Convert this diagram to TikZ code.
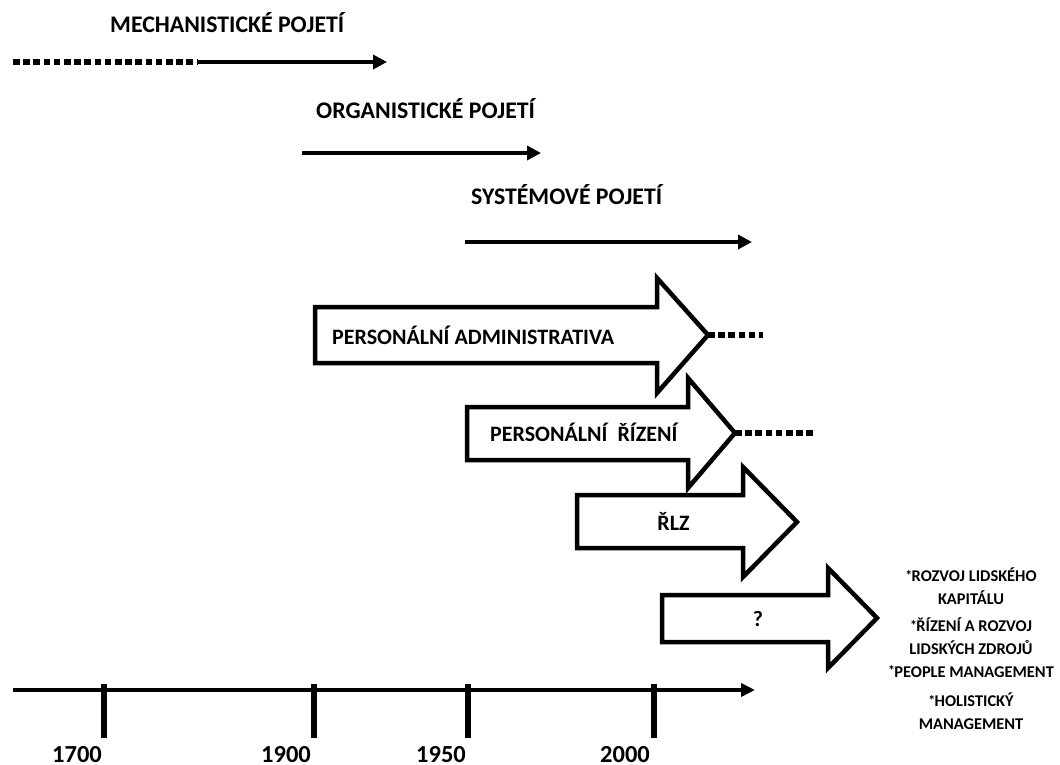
\documentclass[tikz,border=0pt]{standalone}
\usepackage{fontspec}
\setmainfont{Carlito}
\usetikzlibrary{arrows.meta}
\newcommand{\bulstar}{\raisebox{1.2pt}{\fontsize{14}{14}\selectfont *}\kern-0.6pt}
\begin{document}
\begin{tikzpicture}[x=1pt,y=-1pt,
  lbl/.style={font=\fontsize{23.8}{28}\selectfont\bfseries, inner sep=0pt, anchor=base west},
  boxtxt/.style={font=\fontsize{22}{26}\selectfont\bfseries, inner sep=0pt, anchor=base west},
  sidetxt/.style={font=\fontsize{16.4}{22.5}\selectfont\bfseries, inner sep=0pt, anchor=base, align=center},
  yeartxt/.style={font=\fontsize{24.5}{28}\selectfont\bfseries, inner sep=0pt, anchor=base, text depth=0pt},
  thinarrow/.style={line width=4pt, -{Triangle[length=14pt,width=14pt]}},
  dotline/.style={line width=6pt, dash pattern=on 6.5pt off 3.7pt},
  bigarrow/.style={draw=black, line width=4.5pt, fill=white, line join=miter},
  axisline/.style={line width=3.5pt, -{Triangle[length=14pt,width=13pt]}},
  tickline/.style={line width=5.5pt}]
\useasboundingbox (0,0) rectangle (1060,765);

% --- thin arrows with titles
\node[lbl] (mech) at (110,33) {MECHANISTICKÉ POJETÍ};
\coordinate (m0) at (13,62); \coordinate (m1) at (197,62); \coordinate (m2) at (387,62);
\draw[dotline] (m0) -- (m1);
\draw[thinarrow] (m1) -- (m2);

\node[lbl] (org) at (316,119) {ORGANISTICKÉ POJETÍ};
\coordinate (o0) at (302,153); \coordinate (o1) at (541,153);
\draw[thinarrow] (o0) -- (o1);

\node[lbl] (sys) at (471,204) {SYSTÉMOVÉ POJETÍ};
\coordinate (s0) at (465,242); \coordinate (s1) at (752,242);
\draw[thinarrow] (s0) -- (s1);

% --- big block arrows
\draw[bigarrow] (315,307) -- (657,307) -- (657,278) -- (708,335) -- (657,393) -- (657,363) -- (315,363) -- cycle;
\coordinate (patip) at (708,335); \coordinate (paend) at (763,335);
\draw[dotline] (patip) -- (paend);
\node[boxtxt] (pa) at (332,344) {PERSONÁLNÍ ADMINISTRATIVA};

\draw[bigarrow] (467,407) -- (688,407) -- (688,378) -- (735,433) -- (688,488) -- (688,460) -- (467,460) -- cycle;
\coordinate (prtip) at (735,433); \coordinate (prend) at (815,433);
\draw[dotline] (prtip) -- (prend);
\node[boxtxt] (pr) at (490,441) {PERSONÁLNÍ \ ŘÍZENÍ};

\draw[bigarrow] (577,495) -- (743,495) -- (743,467) -- (797,522) -- (743,577) -- (743,548) -- (577,548) -- cycle;
\node[boxtxt, anchor=base] (rlz) at (673.5,530) {ŘLZ};

\draw[bigarrow] (662,595) -- (828,595) -- (828,568) -- (877,618) -- (828,668) -- (828,642) -- (662,642) -- cycle;
\node[boxtxt, anchor=base] (q) at (758,626) {?};

% --- side list (base = last line)
\node[sidetxt] (r1) at (971,604) {\bulstar ROZVOJ LIDSKÉHO\\KAPITÁLU};
\node[sidetxt] (r2) at (971,654) {\bulstar ŘÍZENÍ A ROZVOJ\\LIDSKÝCH ZDROJŮ};
\node[sidetxt] (r3) at (971,677) {\bulstar PEOPLE MANAGEMENT};
\node[sidetxt] (r4) at (971,729) {\bulstar HOLISTICKÝ\\MANAGEMENT};

% --- time axis
\coordinate (a0) at (13,690); \coordinate (a1) at (755,690);
\draw[axisline] (a0) -- (a1);
\foreach \x/\yr/\lx in {104/1700/77, 314/1900/286, 468/1950/441, 654/2000/625}{
  \coordinate (t\yr a) at (\x,684); \coordinate (t\yr b) at (\x,738);
  \draw[tickline] (t\yr a) -- (t\yr b);
  \node[yeartxt] (y\yr) at (\lx,762) {\yr};
}
\end{tikzpicture}
\end{document}
